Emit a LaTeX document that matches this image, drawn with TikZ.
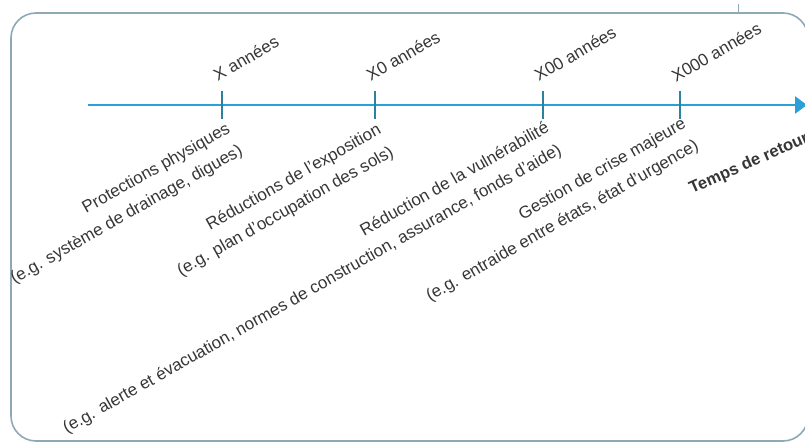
\documentclass[tikz,border=0pt]{standalone}
\usepackage{fontspec}
\setmainfont{Liberation Sans}
\usetikzlibrary{arrows.meta}
\definecolor{axisblue}{HTML}{2A9FD8}
\definecolor{tickblue}{HTML}{2E809F}
\definecolor{framegray}{HTML}{8FA8B6}
\definecolor{txtgray}{HTML}{363636}
\tikzset{
  frameline/.style={draw=framegray, line width=1.6pt, rounded corners=25pt},
  axisline/.style={draw=axisblue, line width=2.6pt, -{Triangle[length=12pt,width=17pt]}},
  tickline/.style={draw=tickblue, line width=1.6pt},
  lbl/.style={inner sep=0pt, text=txtgray, font=\fontsize{17}{25.5}\selectfont},
  lowlbl/.style={lbl, rotate=29.5, align=right, anchor=north east},
  toplbl/.style={lbl, rotate=30, anchor=south west},
}
\begin{document}
\begin{tikzpicture}[x=1pt,y=-1pt]
\useasboundingbox (0,0) rectangle (805,443);
% frame
\draw[frameline] (11,13) rectangle (808,441);
\coordinate (fta) at (738,4);
\coordinate (ftb) at (738,14);
\draw[draw=framegray, line width=1pt] (fta) -- (ftb);
% axis
\coordinate (axs) at (88,105);
\coordinate (axe) at (807,105);
\draw[axisline] (axs) -- (axe);
% ticks
\foreach \n/\x in {1/222,2/375,3/543,4/680}{
  \coordinate (t\n a) at (\x,91);
  \coordinate (t\n b) at (\x,119);
  \draw[tickline] (t\n a) -- (t\n b);
}
% top labels
\node[toplbl] (y1) at ([shift={(-4,-9)}]t1a) {X années};
\node[toplbl] (y2) at ([shift={(-4,-9)}]t2a) {X0 années};
\node[toplbl] (y3) at ([shift={(-4,-9)}]t3a) {X00 années};
\node[toplbl] (y4) at ([shift={(-4,-8)}]t4a) {X000 années};
% lower labels
\node[lowlbl] (l1) at ([shift={(3,2)}]t1b) {Protections physiques\\(e.g. système de drainage, digues)};
\node[lowlbl] (l2) at ([shift={(1,3)}]t2b) {Réductions de l'exposition\\(e.g. plan d'occupation des sols)};
\node[lowlbl] (l3) at ([shift={(1,1)}]t3b) {Réduction de la vulnérabilité\\(e.g. alerte et évacuation, normes de construction, assurance, fonds d'aide)};
\node[lowlbl] (l4) at ([shift={(1,-3)}]t4b) {Gestion de crise majeure\\(e.g. entraide entre états, état d'urgence)};
% axis title
\node[lbl, rotate=24, anchor=base west, font=\fontsize{16.6}{20}\selectfont\bfseries] (tr) at (692,194) {Temps de retour};
\end{tikzpicture}
\end{document}
